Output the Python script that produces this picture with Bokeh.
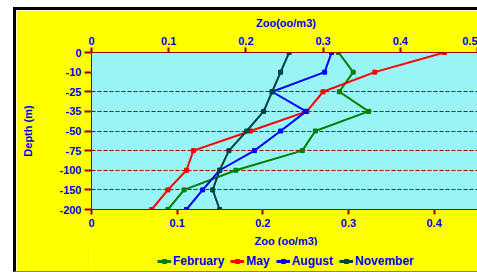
from bokeh.plotting import figure
from bokeh.layouts import column
from bokeh.models import (Range1d, LinearAxis, FixedTicker, NumeralTickFormatter,
                          Legend, LegendItem, Span, Grid)
from bokeh.embed import file_html
from bokeh.resources import INLINE

# ---- data ----
depth_labels = ["0", "-10", "-25", "-35", "-50", "-75", "-100", "-150", "-200"]
february = [0.320, 0.339, 0.321, 0.359, 0.290, 0.273, 0.187, 0.120, 0.099]
may      = [0.457, 0.367, 0.300, 0.279, 0.206, 0.132, 0.123, 0.099, 0.078]
august   = [0.311, 0.302, 0.234, 0.278, 0.245, 0.211, 0.166, 0.144, 0.123]
november = [0.256, 0.245, 0.234, 0.223, 0.201, 0.178, 0.166, 0.157, 0.166]
top_ticks = [0, 0.1, 0.2, 0.3, 0.4, 0.5]
bottom_ticks = [0, 0.1, 0.2, 0.3, 0.4]

series = [("February", february, "#008000"),
          ("May", may, "#FF0000"),
          ("August", august, "#0000FF"),
          ("November", november, "#004040")]

AXIS = "#A00000"
TXT = "#0000F0"
YEL = "#FFFF00"
FONT = "Liberation Sans"
ypos = [-i for i in range(len(depth_labels))]

p = figure(width=464, height=239, output_backend="svg", toolbar_location=None,
           x_range=Range1d(0, 0.5039), y_range=Range1d(-(len(depth_labels) - 1), 0),
           x_axis_location="above",
           min_border_left=75, min_border_right=0, min_border_top=42, min_border_bottom=37)
p.styles = {"margin-left": "13px", "margin-top": "7px",
            "border-left": "3px solid black", "border-top": "3px solid black"}
p.background_fill_color = "#99F5F5"
p.border_fill_color = YEL
p.outline_line_color = None
p.xgrid.visible = False
p.ygrid.visible = False

p.extra_x_ranges = {"bot": Range1d(0, 0.4541)}
bax = LinearAxis(x_range_name="bot")
p.add_layout(bax, "below")


def style_axis(ax, label, tick_out):
    ax.axis_label = label
    ax.axis_line_color = AXIS
    ax.axis_line_width = 1
    ax.major_tick_line_color = AXIS
    ax.major_tick_line_width = 2
    ax.major_tick_in = 0
    ax.major_tick_out = tick_out
    ax.minor_tick_line_color = None
    ax.major_label_text_color = TXT
    ax.major_label_text_font = FONT
    ax.major_label_text_font_style = "bold"
    ax.major_label_text_font_size = "11px"
    ax.axis_label_text_color = TXT
    ax.axis_label_text_font = FONT
    ax.axis_label_text_font_style = "bold"
    ax.axis_label_text_font_size = "11px"


tax = p.xaxis[0]
style_axis(tax, "Zoo(oo/m3)", 5)
tax.ticker = FixedTicker(ticks=top_ticks)
tax.formatter = NumeralTickFormatter(format="0.[0]")
tax.major_label_standoff = 3
tax.axis_label_standoff = 5

style_axis(bax, "Zoo (oo/m3)", 5)
bax.ticker = FixedTicker(ticks=bottom_ticks)
bax.formatter = NumeralTickFormatter(format="0.[0]")
bax.major_label_standoff = 4
bax.axis_label_standoff = 5

lax = p.yaxis[0]
style_axis(lax, "Depth (m)", 7)
lax.ticker = FixedTicker(ticks=ypos)
lax.major_label_overrides = {y: lab for y, lab in zip(ypos, depth_labels)}
lax.major_label_standoff = 3
lax.axis_label_standoff = 22

p.add_layout(Grid(dimension=1, ticker=FixedTicker(ticks=ypos[2:-1]),
                  grid_line_color=AXIS, grid_line_dash="4 2", grid_line_width=1))
p.add_layout(Span(location=0.5, dimension="height", line_color=AXIS, line_width=1))

# legend strip (its data sits outside its visible range, only the legend shows)
lg = figure(width=464, height=27, output_backend="svg", toolbar_location=None,
            x_range=Range1d(10, 11), y_range=Range1d(10, 11),
            x_axis_type=None, y_axis_type=None, min_border=0,
            min_border_left=0, min_border_right=0, min_border_top=0, min_border_bottom=0)
lg.styles = {"margin-left": "13px", "margin-top": "-1px", "border-left": "3px solid black",
             "border-bottom": "1px solid #8a8a00"}
lg.background_fill_color = YEL
lg.border_fill_color = YEL
lg.outline_line_color = None
lg.xgrid.visible = False
lg.ygrid.visible = False

items = []
for name, vals, col in series:
    p.line(vals, ypos, line_color=col, line_width=2)
    p.scatter(vals, ypos, marker="square", size=4, fill_color=col, line_color=col)
    r1 = lg.line(vals, ypos, line_color=col, line_width=3)
    r2 = lg.scatter(vals, ypos, marker="square", size=4, fill_color=col, line_color=col)
    items.append(LegendItem(label=name, renderers=[r1, r2]))

leg = Legend(items=items, orientation="horizontal", location=(66, 4))
leg.label_text_font = FONT
leg.label_text_font_style = "bold"
leg.label_text_font_size = "12px"
leg.label_text_color = TXT
leg.border_line_color = None
leg.background_fill_alpha = 0
leg.margin = 0
leg.padding = 2
leg.spacing = 6
leg.glyph_width = 14
leg.glyph_height = 10
leg.label_standoff = 2
leg.label_height = 12
lg.add_layout(leg)

layout = column(p, lg, spacing=0)
open("out.html", "w").write(file_html(layout, INLINE))
